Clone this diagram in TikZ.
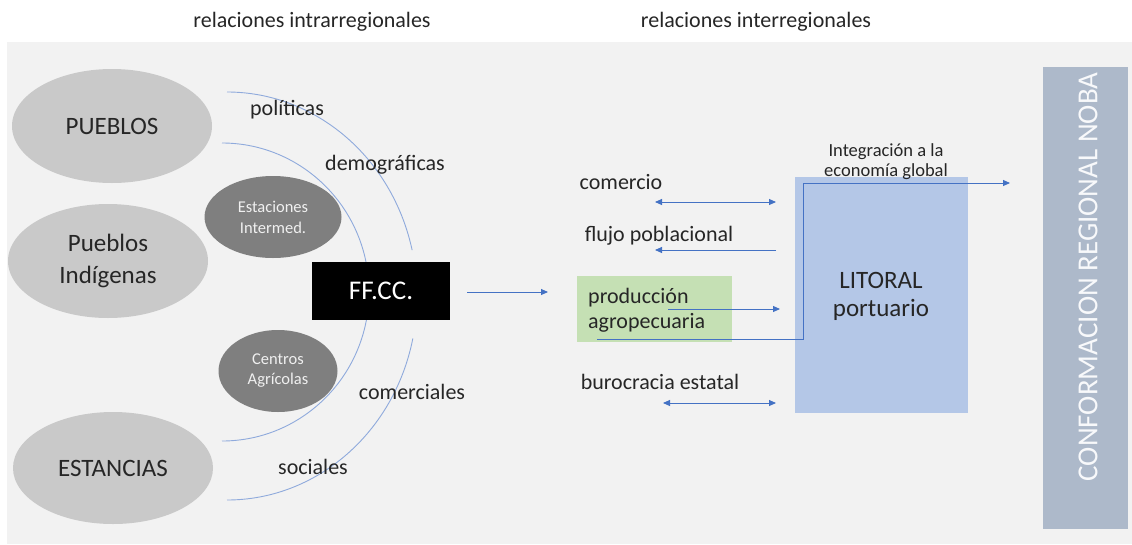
\documentclass[tikz,border=0pt]{standalone}
\usepackage{fontspec}
\setmainfont{Carlito}
\usetikzlibrary{shapes.geometric,arrows.meta}
\definecolor{bgray}{HTML}{F2F2F2}
\definecolor{egray}{HTML}{C9C9C9}
\definecolor{dgray}{HTML}{7F7F7F}
\definecolor{lblue}{HTML}{B4C7E7}
\definecolor{nobab}{HTML}{ADB9CA}
\definecolor{lgreen}{HTML}{C5E0B4}
\definecolor{arr}{HTML}{4472C4}
\definecolor{arc}{HTML}{8FAADC}
\definecolor{txt}{HTML}{262626}
\tikzset{
  bigell/.style={ellipse, fill=egray, inner sep=0pt, minimum width=200pt, minimum height=114pt, text=txt, font=\fontsize{25}{29}\selectfont, align=center},
  smallell/.style={ellipse, fill=dgray, inner sep=0pt, text=white!88!gray, font=\fontsize{16.5}{20}\selectfont, align=center},
  lab/.style={text=txt, font=\fontsize{22}{26}\selectfont, inner sep=0pt},
  ttl/.style={text=txt, font=\fontsize{22}{26}\selectfont, inner sep=0pt},
  con/.style={draw=arr, line width=0.9pt, -{Triangle[length=7pt,width=6pt]}},
  dcon/.style={draw=arr, line width=0.9pt, {Triangle[length=7pt,width=6pt]}-{Triangle[length=7pt,width=6pt]}},
  arcline/.style={draw=arc, line width=0.9pt}
}
\begin{document}
\begin{tikzpicture}[x=1pt,y=-1pt]
\useasboundingbox (0,0) rectangle (1132,544);
\fill[bgray] (7,42) rectangle (1132,544);
% titles
\node[ttl] (t1) at (312,22) {relaciones intrarregionales};
\node[ttl] (t2) at (756,22) {relaciones interregionales};
% arcs
\draw[arcline] (222,143) arc[start angle=-90, end angle=90, x radius=147, y radius=149];
\draw[arcline] (227,92) arc[start angle=-90, end angle=-13, x radius=190, y radius=204];
\draw[arcline] (227,500) arc[start angle=90, end angle=12, x radius=190, y radius=204];
% ellipses
\node[bigell] (pueblos) at (112,126) {PUEBLOS};
\node[bigell] (indig) at (108,261) {Pueblos\\[3pt]Indígenas};
\node[bigell, minimum height=112pt] (estancias) at (113,468) {ESTANCIAS};
\node[smallell, minimum width=137pt, minimum height=82pt] (estac) at (273,217) {Estaciones\\[1pt]Intermed.};
\node[smallell, minimum width=119pt, minimum height=82pt] (centros) at (278,371) {Centros\\[0pt]Agrícolas};
% FFCC
\node[fill=black, text=white, minimum width=138pt, minimum height=58pt, inner sep=0pt, font=\fontsize{27}{30}\selectfont] (ffcc) at (381,291) {FF.CC.};
% arc labels
\node[lab] (pol) at (287,110) {políticas};
\node[lab] (dem) at (385,165) {demográficas};
\node[lab] (com) at (412,392) {comerciales};
\node[lab] (soc) at (313,467) {sociales};
% right part
\node[fill=lblue, minimum width=173pt, minimum height=236pt, inner sep=0pt] (lit) at (881.5,295) {};
\node[text=txt, font=\fontsize{25}{29}\selectfont, align=center, inner sep=0pt] (littxt) at (881,296) {LITORAL\\[-1pt]portuario};
\node[fill=lgreen, minimum width=155pt, minimum height=66pt, inner sep=0pt] (prod) at (654.5,309) {};
\node[lab, align=left, anchor=west] (prodtxt) at (588,310) {producción\\[-1pt]agropecuaria};
\node[fill=nobab, minimum width=85pt, minimum height=462pt, inner sep=0pt] (noba) at (1085.5,298) {};
\node[rotate=90, text=white!92!nobab, font=\fontsize{29}{32}\selectfont, inner sep=0pt] (nobatxt) at (1088,277) {CONFORMACION REGIONAL NOBA};
\node[text=txt, font=\fontsize{18.5}{21}\selectfont, align=center, inner sep=0pt] (integ) at (886,162) {Integración a la\\[-1pt]economía global};
\node[lab] (comer) at (621,182) {comercio};
\node[lab] (flujo) at (659,236) {flujo poblacional};
\node[lab] (buro) at (660,382) {burocracia estatal};
% arrows
\coordinate (a1s) at (467,292);
\coordinate (a1e) at (548,292);
\draw[con] (a1s) -- (a1e);
\coordinate (c1) at (655,202);
\coordinate (c2) at (776,202);
\draw[dcon] (c1) -- (c2);
\coordinate (f1) at (776,250);
\coordinate (f2) at (655,250);
\draw[con] (f1) -- (f2);
\coordinate (p1) at (668,309);
\coordinate (p2) at (780,309);
\draw[con] (p1) -- (p2);
\coordinate (b1) at (663,403);
\coordinate (b2) at (776,403);
\draw[dcon] (b1) -- (b2);
\coordinate (g1) at (597,339);
\coordinate (g2) at (803,339);
\coordinate (g3) at (803,183);
\coordinate (g4) at (1010,183);
\draw[con] (g1) -- (g2) -- (g3) -- (g4);
\end{tikzpicture}
\end{document}
